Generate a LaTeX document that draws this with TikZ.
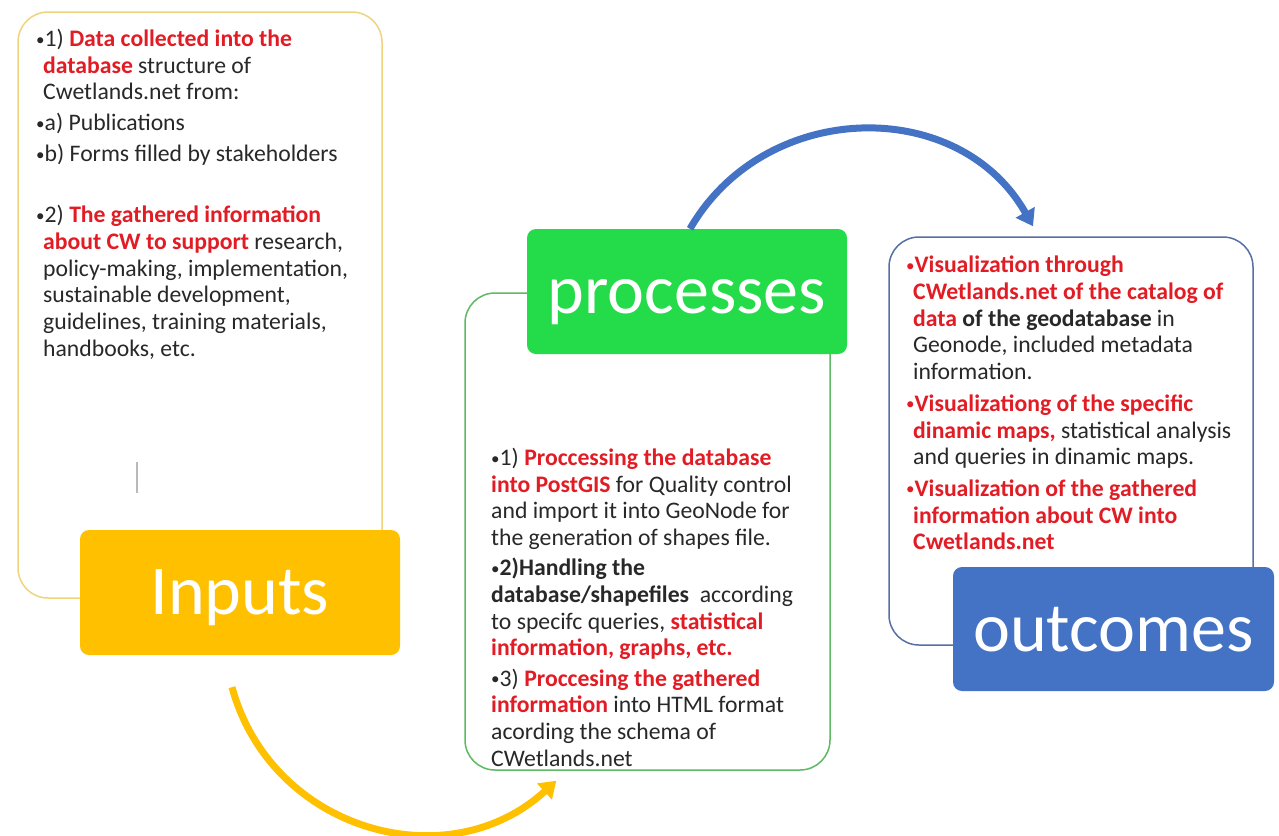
\documentclass[tikz,border=0pt]{standalone}
\usepackage{fontspec}
\setmainfont{Carlito}
\usepackage{xcolor}
\usepackage{tikz}
\usetikzlibrary{positioning,shapes,arrows.meta}
\definecolor{inputgold}{RGB}{255,192,0}
\definecolor{procgreen}{RGB}{36,220,74}
\definecolor{outblue}{RGB}{68,114,196}
\definecolor{goldline}{RGB}{240,212,125}
\definecolor{greenline}{RGB}{95,185,100}
\definecolor{blueline}{RGB}{85,112,165}
\definecolor{cwred}{RGB}{226,28,36}
\definecolor{cwtext}{RGB}{40,40,40}

\newcommand{\redb}[1]{\textbf{\color{cwred}#1}}
\newcommand{\bul}{\makebox[8.5pt][l]{\raisebox{1.5pt}{\fontsize{17}{17}\selectfont\textbullet}}}
\newcommand{\indt}{\hspace*{7pt}}

\tikzset{
  outlinebox/.style={draw, rectangle, rounded corners=30pt, line width=1.5pt},
  titlebox/.style={rectangle, rounded corners=9pt, minimum width=320pt, minimum height=125pt,
    text=white, font=\fontsize{70}{80}\selectfont, text height=44pt, text depth=0pt},
  bodytext/.style={anchor=north west, inner sep=0pt, align=left, text=cwtext,
    font=\fontsize{23.7}{26.7}\selectfont},
  flowarrow/.style={line width=7pt, -{Triangle[length=16pt,width=21pt]}}
}

\begin{document}
\begin{tikzpicture}[x=1pt,y=-1pt]
\path[use as bounding box, fill=white] (0,0) rectangle (1279,835);

% outlines first, the coloured boxes sit on their corners
\node[outlinebox, draw=goldline, minimum width=364pt, minimum height=586pt] (inputsframe) at (200,305) {};
\node[outlinebox, draw=greenline, minimum width=365pt, minimum height=477pt] (procframe) at (647.5,531.5) {};
\node[outlinebox, draw=blueline, minimum width=364pt, minimum height=408pt] (outframe) at (1071,441) {};

\node[titlebox, fill=inputgold] (inputs) at (240,592.5) {Inputs};
\node[titlebox, fill=procgreen] (processes) at (687,291.5) {processes};
\node[titlebox, fill=outblue, minimum width=321pt, minimum height=124pt] (outcomes) at (1113.5,629) {outcomes};

\node[bodytext] (inputstext) at (36,29) {%
\bul 1) \redb{Data collected into the}\\
\indt\redb{database} structure of\\
\indt Cwetlands.net from:\\[4.3pt]
\bul a) Publications\\[4.3pt]
\bul b) Forms filled by stakeholders\\[34pt]
\bul 2) \redb{The gathered information}\\
\indt\redb{about CW to support} research,\\
\indt policy-making, implementation,\\
\indt sustainable development,\\
\indt guidelines, training materials,\\
\indt handbooks, etc.};

\node[bodytext] (proctext) at (491,448) {%
\bul 1) \redb{Proccessing the database}\\
\redb{into PostGIS} for Quality control\\
and import it into GeoNode for\\
the generation of shapes file.\\[3.5pt]
\bul\textbf{2)Handling the}\\
\textbf{database/shapefiles}\ \ according\\
to specifc queries, \redb{statistical}\\
\redb{information, graphs, etc.}\\[3.5pt]
\bul 3) \redb{Proccesing the gathered}\\
\redb{information} into HTML format\\
acording the schema of\\
CWetlands.net};

\node[bodytext] (outtext) at (906,256) {%
\textcolor{cwred}{\bul}\redb{Visualization through}\\
\indt\redb{CWetlands.net of the catalog of}\\
\indt\redb{data} \textbf{of the geodatabase} in\\
\indt Geonode, included metadata\\
\indt information.\\[5pt]
\textcolor{cwred}{\bul}\redb{Visualizationg of the specific}\\
\indt\redb{dinamic maps,} statistical analysis\\
\indt and queries in dinamic maps.\\[5pt]
\textcolor{cwred}{\bul}\redb{Visualization of the gathered}\\
\indt\redb{information about CW into}\\
\indt\redb{Cwetlands.net}};

% small grey mark inside the inputs outline
\draw[gray!55, line width=1.5pt] (137,462) -- (137,493);

\draw[flowarrow, inputgold] ([xshift=-8pt,yshift=-32pt]inputs.south)
  .. controls +(39,143) and +(-109,100) .. ([xshift=92pt,yshift=-10pt]procframe.south west);
\draw[flowarrow, outblue] ([xshift=3pt]processes.north)
  .. controls +(75,-130) and +(-74,-131) .. ([xshift=-38pt,yshift=10pt]outframe.north);
\end{tikzpicture}
\end{document}
